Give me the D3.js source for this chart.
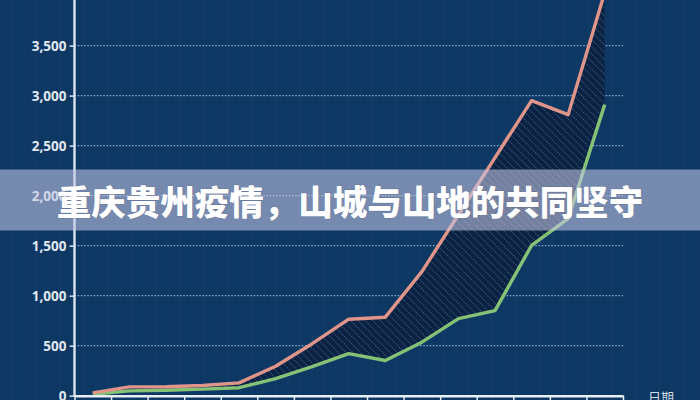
<!DOCTYPE html>
<html><head><meta charset="utf-8">
<script src="https://cdn.jsdelivr.net/npm/d3@7"></script>
<style>
html,body{margin:0;padding:0;background:#0e3864;}
svg{display:block;}
</style></head>
<body>
<svg id="c" width="700" height="400"></svg>
<script>
// ---- data ----
const days = ["1","2","3","4","5","6","7","8","9","10","11","12","13","14","15"];
const upperSeries = [28, 88, 90, 102, 128, 295, 520, 765, 785, 1240, 1810, 2380, 2950, 2810, 4030];
const lowerSeries = [14, 48, 55, 66, 80, 170, 290, 420, 352, 535, 770, 850, 1503, 1770, 2910];
const yTicks = [0, 500, 1000, 1500, 2000, 2500, 3000, 3500];
const xAxisTitle = "日期";
const bannerTitle = "重庆贵州疫情，山城与山地的共同坚守";

const svg = d3.select("#c");
const W = 700, H = 400;
const left = 74.5, right = 623, y0px = 395.7, y3500px = 45.6;

svg.append("rect").attr("width", W).attr("height", H).attr("fill", "#0e3864");

// faint texture grid
const tex = svg.append("g").attr("opacity", 0.04);
d3.range(0, W, 12).forEach(v => tex.append("line").attr("x1", v).attr("x2", v).attr("y1", 0).attr("y2", H).attr("stroke", "#9cc"));

const x = d3.scaleBand().domain(days).range([left, right]).padding(0);
const xb = d3.scaleLinear().domain([0, days.length]).range([left, right]);
const y = d3.scaleLinear().domain([0, 3500]).range([y0px, y3500px]);

// hatch pattern
const defs = svg.append("defs");
const pat = defs.append("pattern").attr("id", "hatch").attr("patternUnits", "userSpaceOnUse")
  .attr("width", 5.2).attr("height", 5.2).attr("patternTransform", "rotate(-45)");
pat.append("rect").attr("width", 5.2).attr("height", 5.2).attr("fill", "#0a2244");
pat.append("line").attr("x1", 0).attr("x2", 0).attr("y1", 0).attr("y2", 5.2)
  .attr("stroke", "#d0deee").attr("stroke-width", 1).attr("stroke-dasharray", "1.3,1.3").attr("opacity", 0.6);

// gridlines
svg.append("g").selectAll("line").data(yTicks.filter(d => d > 0)).join("line")
  .attr("x1", left).attr("x2", right).attr("y1", d => y(d)).attr("y2", d => y(d))
  .attr("stroke", "#9dbbd8").attr("stroke-width", 1.3).attr("stroke-dasharray", "1.6,1.6").attr("opacity", 0.85);

const cx = d => x(d) + x.bandwidth() / 2;
const pts = days.map((d, i) => ({d, hi: upperSeries[i], lo: lowerSeries[i]}));

svg.append("path").datum(pts)
  .attr("d", d3.area().x(p => cx(p.d)).y0(p => y(p.lo)).y1(p => y(p.hi)))
  .attr("fill", "url(#hatch)");

svg.append("path").datum(pts)
  .attr("d", d3.line().x(p => cx(p.d)).y(p => y(p.lo)))
  .attr("fill", "none").attr("stroke", "#86c276").attr("stroke-width", 3.4).attr("stroke-linejoin", "round");
svg.append("path").datum(pts)
  .attr("d", d3.line().x(p => cx(p.d)).y(p => y(p.hi)))
  .attr("fill", "none").attr("stroke", "#e0958a").attr("stroke-width", 3.4).attr("stroke-linejoin", "round");

// axes
const gy = svg.append("g").attr("transform", `translate(${left},0)`)
  .call(d3.axisLeft(y).tickValues(yTicks).tickFormat(d3.format(",")).tickSize(5).tickPadding(3));
gy.select(".domain").remove();
gy.append("line").attr("x1", 0).attr("x2", 0).attr("y1", 0).attr("y2", y0px + 1)
  .attr("stroke", "#dbe6f0").attr("stroke-width", 2.4);
gy.selectAll(".tick line").attr("stroke", "#dbe6f0").attr("stroke-width", 1.5);
gy.selectAll(".tick text").attr("fill", "#e2e8f0").attr("font-family", "'Open Sans', 'Liberation Sans', sans-serif")
  .attr("font-weight", "bold").attr("font-size", 13.5).attr("dy", "0.35em");

const gx = svg.append("g").attr("transform", `translate(0,${y0px})`)
  .call(d3.axisBottom(xb).tickValues(d3.range(days.length + 1)).tickFormat("").tickSize(6).tickSizeOuter(0));
gx.select(".domain").attr("stroke", "#e8eef5").attr("stroke-width", 2.4);
gx.selectAll(".tick line").attr("stroke", "#e8eef5").attr("stroke-width", 1.5);

svg.append("text").attr("x", 648).attr("y", 402).text(xAxisTitle)
  .attr("fill", "#cfd8e3").attr("font-size", 13).attr("font-family", "'Noto Sans CJK SC', sans-serif");

// banner
svg.append("rect").attr("x", 0).attr("y", 169.5).attr("width", W).attr("height", 61)
  .attr("fill", "rgb(200,202,232)").attr("opacity", 0.56);
svg.append("text").attr("x", 350).attr("y", 200).attr("text-anchor", "middle").attr("dominant-baseline", "central")
  .attr("fill", "#ffffff").attr("font-size", 34.5).attr("font-weight", 900)
  .attr("font-family", "'Noto Sans CJK SC', sans-serif")
  .style("paint-order", "stroke").attr("stroke", "rgba(60,70,110,0.25)").attr("stroke-width", 1)
  .text(bannerTitle);
</script>
</body></html>
